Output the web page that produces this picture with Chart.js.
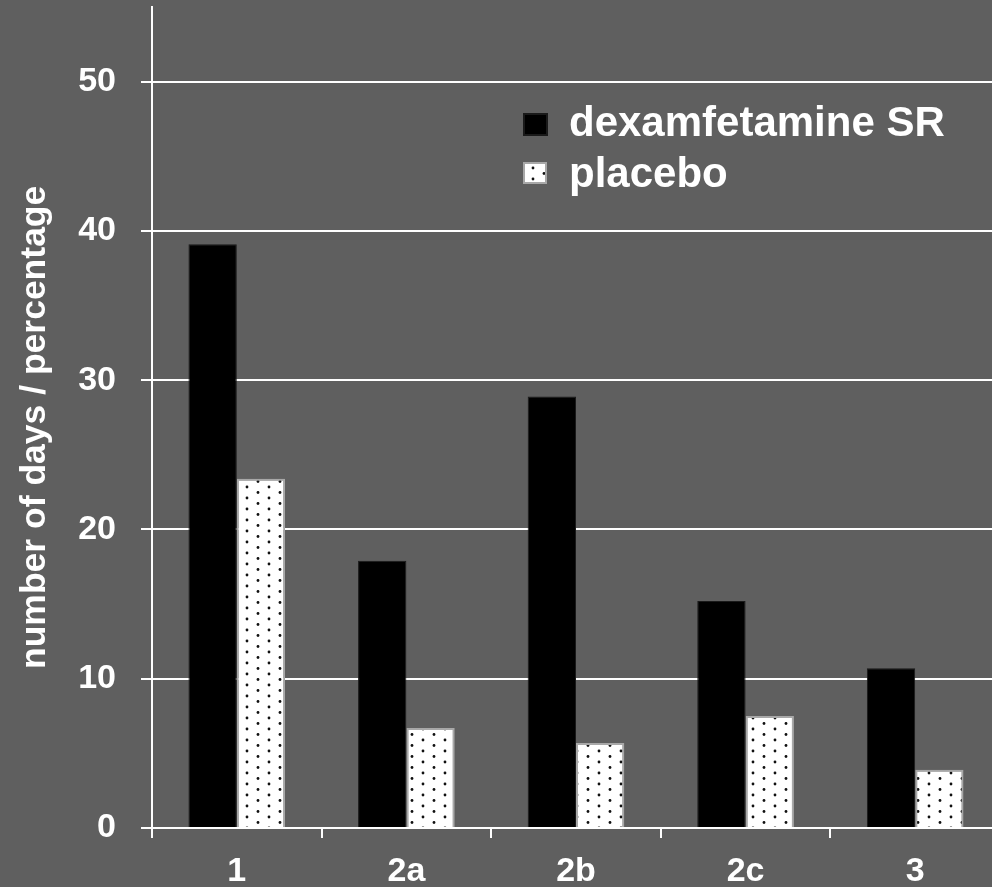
<!DOCTYPE html>
<html>
<head>
<meta charset="utf-8">
<script src="https://cdn.jsdelivr.net/npm/chart.js@4/dist/chart.umd.min.js"></script>
<style>
html, body { margin: 0; padding: 0; background: #5f5f5f; overflow: hidden; }
#wrap { width: 1000px; height: 887px; }
</style>
</head>
<body>
<div id="wrap"><canvas id="grafica" width="1000" height="887"></canvas></div>
<script>
var categorias = ['1', '2a', '2b', '2c', '3'];
var dexamfetamina = [39.1, 17.9, 28.9, 15.2, 10.7];
var placebo = [23.4, 6.7, 5.7, 7.5, 3.9];
var ticksY = [0, 10, 20, 30, 40, 50];

// trama de puntos para el placebo
function trama() {
  var c = document.createElement('canvas');
  c.width = 22; c.height = 11;
  var g = c.getContext('2d');
  g.fillStyle = '#ffffff';
  g.fillRect(0, 0, 22, 11);
  g.fillStyle = '#111111';
  g.beginPath(); g.arc(5, 3, 1.4, 0, Math.PI * 2); g.fill();
  g.beginPath(); g.arc(16, 8.5, 1.4, 0, Math.PI * 2); g.fill();
  return g.createPattern(c, 'repeat');
}

var fuente = '"Liberation Sans", Arial, sans-serif';
Chart.defaults.font.family = fuente;
Chart.defaults.font.weight = 'bold';
Chart.defaults.color = '#ffffff';

// leyenda dibujada dentro del area
var leyenda = {
  id: 'leyenda',
  afterDraw: function(chart) {
    var ctx = chart.ctx;
    var filas = [
      { y: 136, caja: [524, 114, 23, 21] },
      { y: 187, caja: [524, 163, 22, 20] }
    ];
    ctx.save();
    chart.data.datasets.forEach(function(ds, i) {
      var f = filas[i], b = f.caja;
      ctx.fillStyle = ds.backgroundColor;
      ctx.fillRect(b[0], b[1], b[2], b[3]);
      ctx.lineWidth = 2;
      ctx.strokeStyle = ds.borderColor;
      ctx.strokeRect(b[0], b[1], b[2], b[3]);
      ctx.fillStyle = '#ffffff';
      ctx.font = 'bold 42px ' + fuente;
      ctx.textBaseline = 'alphabetic';
      ctx.textAlign = 'left';
      ctx.fillText(ds.label, 569, f.y);
    });
    ctx.restore();
  }
};

var ctx = document.getElementById('grafica');

var grafica = new Chart(ctx, {
  type: 'bar',
  data: {
    labels: categorias,
    datasets: [
      {
        label: 'dexamfetamine SR',
        data: dexamfetamina,
        backgroundColor: '#000000',
        borderColor: '#1a1a1a',
        borderWidth: 1
      },
      {
        label: 'placebo',
        data: placebo,
        backgroundColor: trama(),
        borderColor: '#a8a8a8',
        borderWidth: 2
      }
    ]
  },
  options: {
    responsive: false,
    animation: false,
    layout: { padding: { top: 7, right: 0, left: 0, bottom: 0 } },
    datasets: { bar: { categoryPercentage: 0.57, barPercentage: 1.0 } },
    plugins: {
      legend: { display: false },
      tooltip: { enabled: false }
    },
    scales: {
      x: {
        grid: {
          offset: true,
          drawOnChartArea: false,
          color: '#ffffff',
          lineWidth: 2,
          tickLength: 10
        },
        border: { color: '#ffffff', width: 2 },
        ticks: { font: { size: 34, weight: 'bold' }, color: '#ffffff', padding: 13, maxRotation: 0 },
        afterFit: function(s) { s.height = 59; s.paddingLeft = 0; s.paddingRight = 0; }
      },
      y: {
        min: 0,
        max: 55,
        afterBuildTicks: function(s) {
          s.ticks = ticksY.map(function(v) { return { value: v }; });
        },
        grid: { color: '#ffffff', lineWidth: 2, tickLength: 11 },
        border: { color: '#ffffff', width: 2 },
        ticks: { font: { size: 34, weight: 'bold' }, color: '#ffffff', padding: 25 },
        title: {
          display: true,
          text: 'number of days / percentage  ',
          color: '#ffffff',
          font: { size: 35.5, weight: 'bold' },
          padding: { top: 14, bottom: 0 }
        },
        afterFit: function(s) { s.width = 152; s.paddingTop = 0; s.paddingBottom = 0; }
      }
    }
  },
  plugins: [leyenda]
});
</script>
</body>
</html>
